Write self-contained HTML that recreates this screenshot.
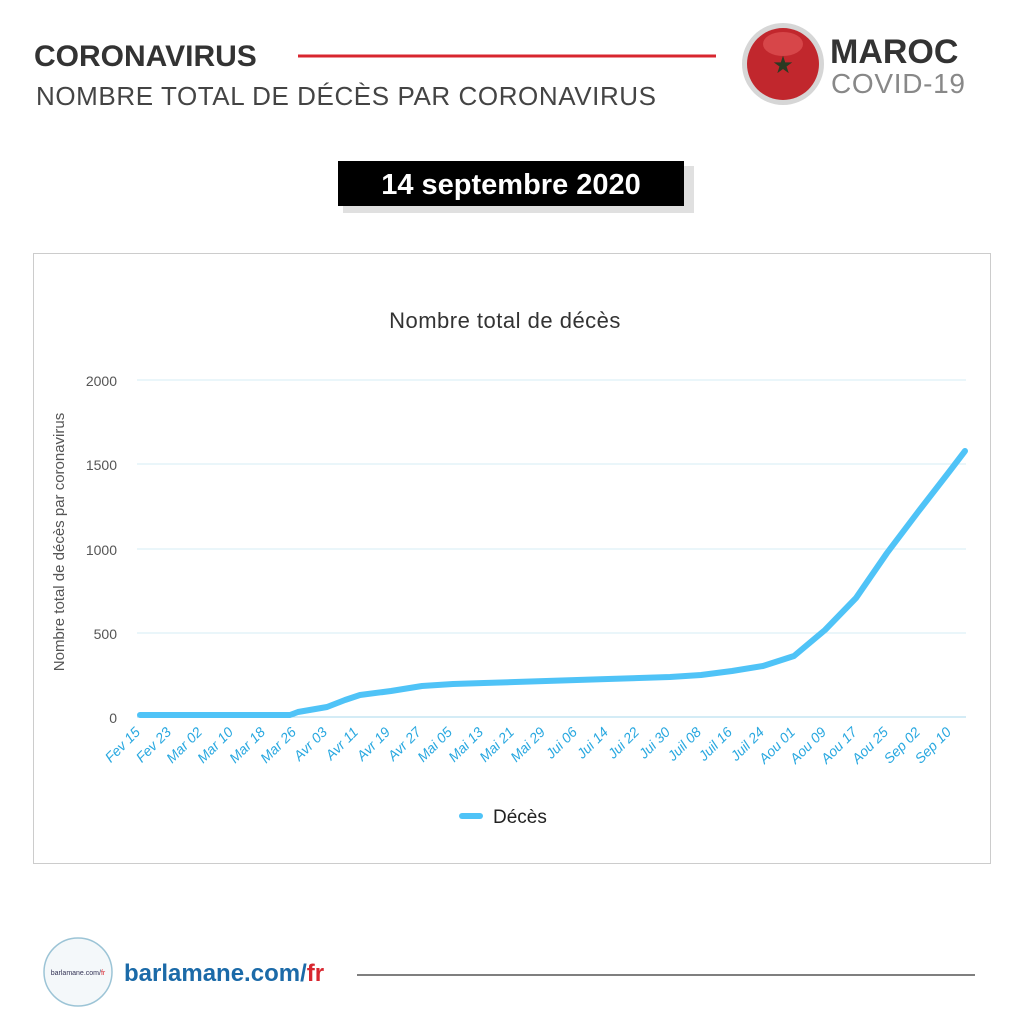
<!DOCTYPE html><html><head><meta charset="utf-8"><style>body{margin:0;background:#fff}svg{display:block}</style></head><body>
<svg width="1024" height="1024" viewBox="0 0 1024 1024" xmlns="http://www.w3.org/2000/svg" font-family="Liberation Sans, sans-serif">
<rect width="1024" height="1024" fill="#fff"/>
<text x="34" y="66" font-size="30" font-weight="bold" fill="#333">CORONAVIRUS</text>
<line x1="298" y1="56" x2="716" y2="56" stroke="#d8262f" stroke-width="3"/>
<text x="36" y="105" font-size="26" fill="#444" textLength="620">NOMBRE TOTAL DE DÉCÈS PAR CORONAVIRUS</text>
<circle cx="783" cy="64" r="41" fill="#d6d6d6"/>
<circle cx="783" cy="64" r="36" fill="#c1272d"/>
<ellipse cx="783" cy="44" rx="20" ry="12" fill="#e66" opacity="0.5"/>
<text x="783" y="73" font-size="24" text-anchor="middle" fill="#2a3a22">★</text>
<text x="830" y="63" font-size="34" font-weight="bold" fill="#333">MAROC</text>
<text x="831" y="93" font-size="28" fill="#888" textLength="134">COVID-19</text>
<rect x="343" y="166" width="351" height="47" fill="#ccc" opacity="0.6"/>
<rect x="338" y="161" width="346" height="45" fill="#000"/>
<text x="511" y="194" font-size="29" font-weight="bold" fill="#fff" text-anchor="middle">14 septembre 2020</text>
<rect x="33.5" y="253.5" width="957" height="610" fill="#fff" stroke="#ccc"/>
<text x="505" y="328" font-size="22" fill="#333" text-anchor="middle" letter-spacing="0.5">Nombre total de décès</text>
<g stroke="#d6ecf6" stroke-width="1">
<line x1="137" y1="380" x2="966" y2="380"/><line x1="137" y1="464" x2="966" y2="464"/><line x1="137" y1="549" x2="966" y2="549"/><line x1="137" y1="633" x2="966" y2="633"/></g>
<line x1="137" y1="717" x2="966" y2="717" stroke="#a8d8ee"/>
<g font-size="14" fill="#555" text-anchor="end">
<text x="117" y="386">2000</text><text x="117" y="470">1500</text><text x="117" y="555">1000</text><text x="117" y="639">500</text><text x="117" y="723">0</text></g>
<text transform="translate(64,542) rotate(-90)" font-size="15" fill="#555" text-anchor="middle">Nombre total de décès par coronavirus</text>
<polyline fill="none" stroke="#4fc3f7" stroke-width="6" stroke-linejoin="round" stroke-linecap="round" points="140,715 290,715 298,712 327,707 345,700 360,695 391,691 422,686 453,684 484,683 515,682 546,681 577,680 608,679 639,678 670,677 701,675 732,671 763,666 794,656 825,630 856,598 887,553 918,512 949,472 965,451"/>
<g font-size="14" fill="#29a8e0" text-anchor="end" font-style="italic">
<text transform="translate(141,733) rotate(-45)">Fev 15</text>
<text transform="translate(172,733) rotate(-45)">Fev 23</text>
<text transform="translate(203,733) rotate(-45)">Mar 02</text>
<text transform="translate(234,733) rotate(-45)">Mar 10</text>
<text transform="translate(266,733) rotate(-45)">Mar 18</text>
<text transform="translate(297,733) rotate(-45)">Mar 26</text>
<text transform="translate(328,733) rotate(-45)">Avr 03</text>
<text transform="translate(359,733) rotate(-45)">Avr 11</text>
<text transform="translate(391,733) rotate(-45)">Avr 19</text>
<text transform="translate(422,733) rotate(-45)">Avr 27</text>
<text transform="translate(453,733) rotate(-45)">Mai 05</text>
<text transform="translate(484,733) rotate(-45)">Mai 13</text>
<text transform="translate(515,733) rotate(-45)">Mai 21</text>
<text transform="translate(546,733) rotate(-45)">Mai 29</text>
<text transform="translate(578,733) rotate(-45)">Jui 06</text>
<text transform="translate(609,733) rotate(-45)">Jui 14</text>
<text transform="translate(640,733) rotate(-45)">Jui 22</text>
<text transform="translate(671,733) rotate(-45)">Jui 30</text>
<text transform="translate(702,733) rotate(-45)">Juil 08</text>
<text transform="translate(733,733) rotate(-45)">Juil 16</text>
<text transform="translate(765,733) rotate(-45)">Juil 24</text>
<text transform="translate(796,733) rotate(-45)">Aou 01</text>
<text transform="translate(827,733) rotate(-45)">Aou 09</text>
<text transform="translate(858,733) rotate(-45)">Aou 17</text>
<text transform="translate(889,733) rotate(-45)">Aou 25</text>
<text transform="translate(921,733) rotate(-45)">Sep 02</text>
<text transform="translate(952,733) rotate(-45)">Sep 10</text>
</g>
<line x1="462" y1="816" x2="480" y2="816" stroke="#4fc3f7" stroke-width="6" stroke-linecap="round"/>
<text x="493" y="823" font-size="19" fill="#222">Décès</text>
<circle cx="78" cy="972" r="34" fill="#f4f8fa" stroke="#9cc4d6" stroke-width="1.5"/>
<text x="78" y="975" font-size="7" fill="#335" text-anchor="middle">barlamane.com/<tspan fill="#d8262f">fr</tspan></text>
<text x="124" y="981" font-size="24" font-weight="bold" fill="#1b6aa8">barlamane.com/<tspan fill="#d8262f">fr</tspan></text>
<line x1="357" y1="975" x2="975" y2="975" stroke="#333" stroke-width="1.2"/>
</svg>
</body></html>
